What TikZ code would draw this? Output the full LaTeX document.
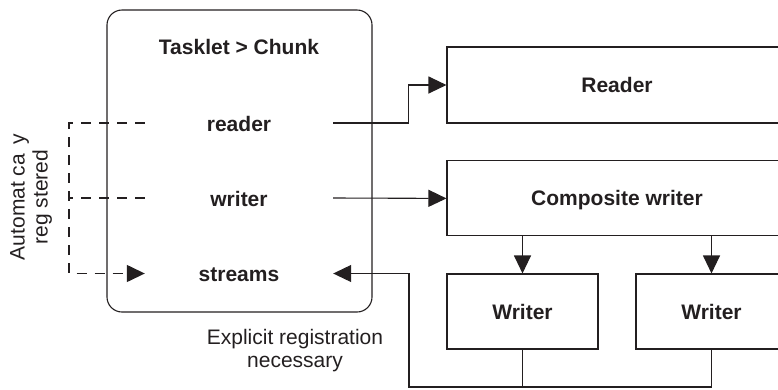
\documentclass[tikz,border=0pt]{standalone}
\usepackage{fontspec}
\setmainfont{Liberation Sans}
\usetikzlibrary{arrows.meta}
\definecolor{ink}{HTML}{231F20}
\tikzset{
	box/.style={draw=ink,line width=1.1pt,inner sep=0pt,text=ink,text height=15pt,text depth=0pt,font=\bfseries\fontsize{21}{23}\selectfont},
	slot/.style={inner sep=0pt,minimum width=188pt,text=ink,text height=16pt,text depth=0pt,font=\bfseries\fontsize{21}{23}\selectfont},
	note/.style={inner sep=0pt,align=center,text=ink,font=\fontsize{21}{23}\selectfont},
	wire/.style={draw=ink,line width=1.1pt},
	link/.style={wire,-{Triangle[length=18pt,width=17pt]}},
	dashes/.style={line width=1.4pt,dash pattern=on 10pt off 8pt},
	autoreg/.style={link,dashes}
}
\begin{document}
\begin{tikzpicture}[x=1pt,y=-1pt]
				\useasboundingbox (0,0) rectangle (778,389);
				\clip (0,0) rectangle (778,389);
				% the step
				\node[box,rounded corners=15pt,minimum width=265pt,minimum height=302pt] (stepbox) at (239.5,161) {};
				\node[slot] (title) at (239,46) {Tasklet > Chunk};
				\node[slot] (reader) at (239,123) {reader};
				\node[slot] (writer) at (239,198) {writer};
				\node[slot] (streams) at (239,273.5) {streams};
				% right hand side
				\node[box,minimum width=340pt,minimum height=76pt] (rd) at (617,85) {Reader};
				\node[box,minimum width=340pt,minimum height=75pt] (cw) at (617,198.4) {Composite writer};
				\node[box,minimum width=151pt,minimum height=75pt] (w1) at (522.5,311.5) {Writer};
				\node[box,minimum width=151pt,minimum height=75pt] (w2) at (711.5,311.5) {Writer};
				% labels
				\node[note,rotate=90] (auto) at (31,197) {Automat ca\hspace{0.17em} y\\reg stered};
				\node[note,anchor=north] (expl) at (295,329.5) {Explicit registration\\necessary};
				% connectors
				\draw[link] (reader.east) -- ++(75,0) |- (rd.west);
				\draw[link] (writer.east) -- (cw.west);
				\draw[link] (w1.north |- cw.south) -- (w1.north);
				\draw[link] (w2.north |- cw.south) -- (w2.north);
				\coordinate (bus) at (409,387);
				\draw[link] (w2.south) |- (bus) |- (streams.east);
				\draw[wire] (w1.south) -- (w1.south |- bus);
				\coordinate (rail) at (69,0);
				\draw[autoreg] (reader.west) -- (reader.west -| rail) |- (streams.west);
				\draw[wire,dashes] (writer.west) -- (writer.west -| rail);
\end{tikzpicture}
\end{document}
